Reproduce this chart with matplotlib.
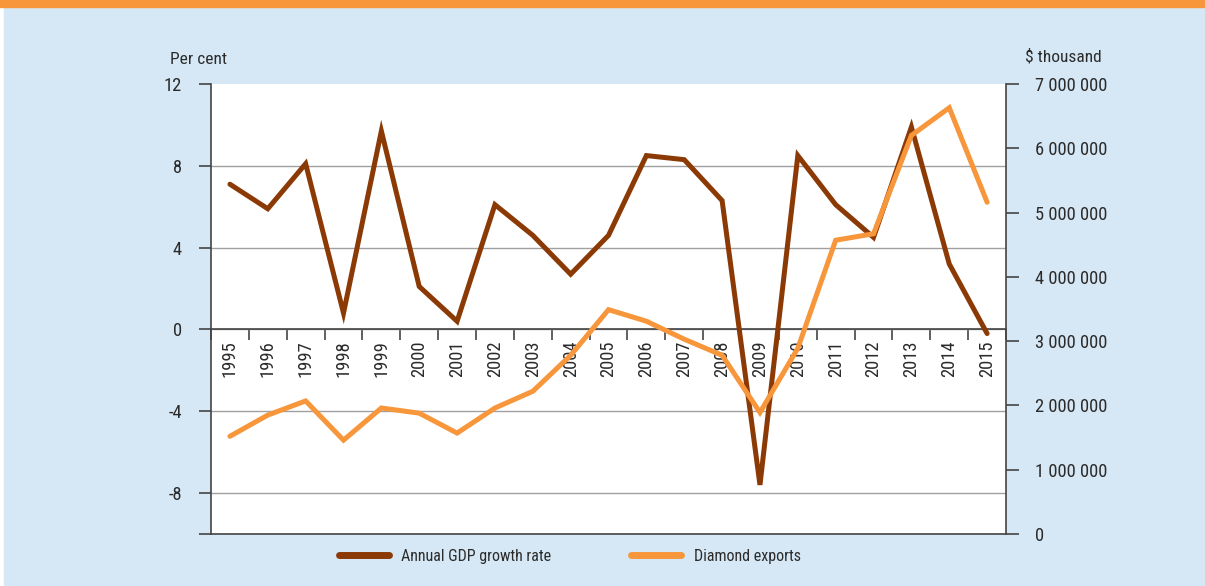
import matplotlib
matplotlib.use("Agg")
import matplotlib.pyplot as plt
from matplotlib.patches import Rectangle
from matplotlib.ticker import FuncFormatter, FixedLocator

years = [str(y) for y in range(1995, 2016)]
gdp_growth = [7.1, 5.9, 8.1, 0.8, 9.7, 2.1, 0.4, 6.1, 4.6, 2.7, 4.6,
              8.5, 8.3, 6.3, -7.6, 8.5, 6.1, 4.5, 9.9, 3.2, -0.2]
diamond_exports = [1520000, 1850000, 2070000, 1460000, 1960000, 1880000, 1570000,
                   1960000, 2220000, 2780000, 3490000, 3310000, 3030000, 2780000,
                   1890000, 2890000, 4570000, 4670000, 6200000, 6630000, 5160000]

left_ticks = [-10, -8, -4, 0, 4, 8, 12]
left_labels = ['', '-8', '-4', '0', '4', '8', '12']
right_ticks = [0, 1000000, 2000000, 3000000, 4000000, 5000000, 6000000, 7000000]

brown = '#8B3A05'
orange = '#F7963A'
bg = '#D6E8F5'
txt = '#2B2B2B'
axcol = '#444444'

plt.rcParams['font.family'] = ['Roboto Condensed', 'DejaVu Sans Condensed', 'Liberation Sans', 'DejaVu Sans']
plt.rcParams['font.size'] = 12.5
tick_size = 13.3

fig = plt.figure(figsize=(12.05, 5.86), dpi=100, facecolor='white')
fig.patches.append(Rectangle((4 / 1205, 0), 1, 1, transform=fig.transFigure, color=bg, zorder=-2))
fig.patches.append(Rectangle((0, 1 - 7 / 586), 1, 7 / 586, transform=fig.transFigure, color=orange, zorder=-1))

ax = fig.add_axes([0.1751, 0.0887, 0.6598, 0.768])
ax.set_facecolor('white')
x = list(range(len(years)))

ax.plot(x, gdp_growth, color=brown, lw=3.6, solid_capstyle='round', solid_joinstyle='miter', zorder=3)
ax.set_xlim(-0.5, len(years) - 0.5)
ax.set_ylim(-10, 12)
ax.set_yticks(left_ticks)
ax.set_yticklabels(left_labels)
ax.yaxis.grid(True, color='#A0A0A0', lw=1)
ax.yaxis.get_major_ticks()[-1].gridline.set_visible(False)
ax.set_axisbelow(True)

# category axis sits on the zero line
ax.spines['bottom'].set_position(('data', 0))
ax.spines['bottom'].set_color(axcol)
ax.spines['bottom'].set_linewidth(1.2)
ax.spines['top'].set_visible(False)
ax.spines['right'].set_visible(False)
ax.spines['left'].set_color(axcol)
ax.spines['left'].set_linewidth(1.2)
ax.set_xticks(x)
ax.set_xticklabels(years, rotation=90, va='top', color=txt)
ax.tick_params(axis='x', which='major', length=0, pad=8, labelsize=tick_size)
ax.xaxis.set_minor_locator(FixedLocator([i - 0.5 for i in range(len(years) + 1)]))
ax.tick_params(axis='x', which='minor', length=8, width=1.2, color=axcol, direction='out')
ax.tick_params(axis='y', length=9, width=1.2, color=axcol, pad=12, labelcolor=txt, labelsize=tick_size)

ax2 = ax.twinx()
ax2.plot(x, diamond_exports, color=orange, lw=3.6, solid_capstyle='round', solid_joinstyle='miter', zorder=3)
ax2.set_ylim(0, 7000000)
ax2.set_yticks(right_ticks)
ax2.yaxis.set_major_formatter(FuncFormatter(lambda v, p: f"{int(v):,}".replace(',', ' ')))
ax2.tick_params(axis='y', length=9, width=1.2, color=axcol, pad=11.5, labelcolor=txt, labelsize=tick_size)
ax2.spines['top'].set_visible(False)
ax2.spines['left'].set_visible(False)
ax2.spines['right'].set_color(axcol)
ax2.spines['right'].set_linewidth(1.2)
ax2.spines['bottom'].set_color(axcol)
ax2.spines['bottom'].set_linewidth(1.2)

fig.text(170 / 1205, 1 - 60 / 586, 'Per cent', ha='left', va='center', color=txt)
fig.text(1025 / 1205, 1 - 57 / 586, '$ thousand', ha='left', va='center', color=txt)

h1, = ax.plot([], [], color=brown, lw=5, solid_capstyle='round', label='Annual GDP growth rate')
h2, = ax.plot([], [], color=orange, lw=5, solid_capstyle='round', label='Diamond exports')
fig.legend(handles=[h1, h2], loc='center', bbox_to_anchor=(0.473, 0.051), ncol=2,
           frameon=False, handlelength=3.1, handletextpad=0.8, columnspacing=5.0,
           labelcolor=txt, fontsize=11.5)

fig.savefig('out.png', dpi=100, facecolor=fig.get_facecolor())
